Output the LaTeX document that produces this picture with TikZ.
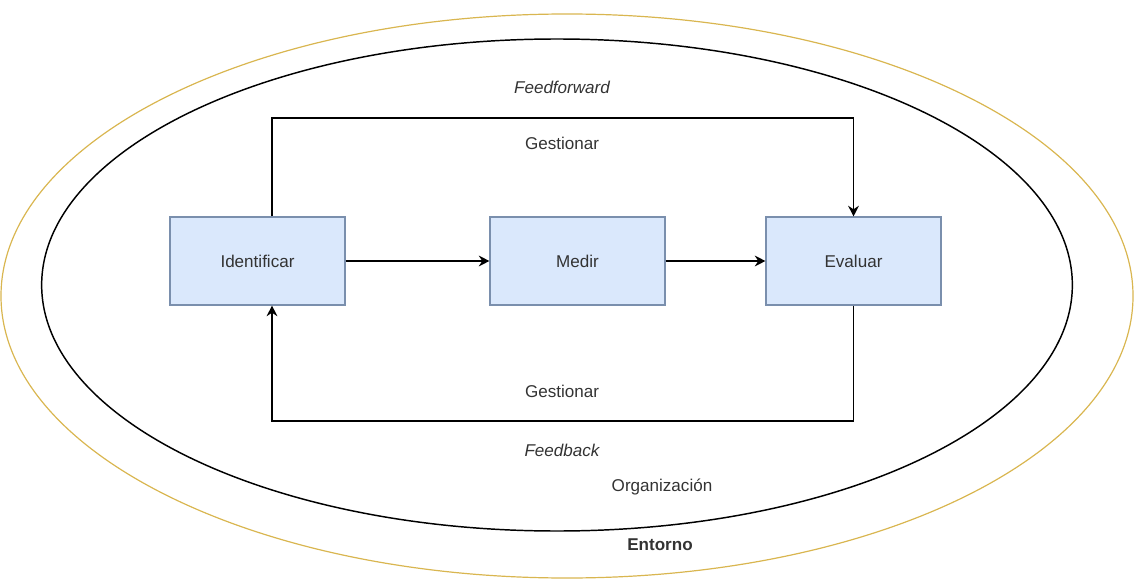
\documentclass[tikz,border=0pt]{standalone}
\usepackage{fontspec}
\setmainfont{Liberation Sans}
\usetikzlibrary{arrows.meta}
\definecolor{boxfill}{HTML}{DAE8FC}
\definecolor{boxline}{HTML}{7A8FAD}
\definecolor{txt}{HTML}{333333}
\definecolor{gold}{HTML}{D9B650}
\tikzset{
  stepbox/.style={draw=boxline, fill=boxfill, line width=0.8pt, minimum width=131.25pt, minimum height=66pt, text=txt, font=\fontsize{12.8}{15}\selectfont},
  conn/.style={draw=black, line width=1.3pt},
  arr/.style={conn, -{Stealth[length=8pt,width=8pt]}},
  lbl/.style={text=txt, font=\fontsize{12.8}{15}\selectfont},
}
\begin{document}
\begin{tikzpicture}[x=0.75pt, y=-0.75pt]
\useasboundingbox (0,0) rectangle (1134,581);
% ellipses
\draw[gold, line width=0.9pt] (567,296) ellipse [x radius=424.5pt, y radius=211.5pt];
\draw[black, line width=1.1pt] (557,285) ellipse [x radius=386.5pt, y radius=184.5pt];
% boxes
\node[stepbox] (idn) at (257.5,261) {Identificar};
\node[stepbox] (med) at (577.5,261) {Medir};
\node[stepbox] (eva) at (853.5,261) {Evaluar};
% coordinates
\coordinate (ffl) at (272,118);
\coordinate (fbl) at (272,421);
% connectors
\draw[arr] (idn) -- (med);
\draw[arr] (med) -- (eva);
\draw[arr] (idn.north -| ffl) -- (ffl) -| (eva.north);
\draw[arr] (eva.south) |- (fbl) -- (idn.south -| fbl);
% labels
\node[lbl] (tff) at (562,87) {\itshape Feedforward};
\node[lbl] (tg1) at (562,143) {Gestionar};
\node[lbl] (tg2) at (562,391) {Gestionar};
\node[lbl] (tfb) at (562,450) {\itshape Feedback};
\node[lbl] (torg) at (662,487) {Organización};
\node[lbl] (tent) at (660,545) {\bfseries Entorno};
\end{tikzpicture}
\end{document}
